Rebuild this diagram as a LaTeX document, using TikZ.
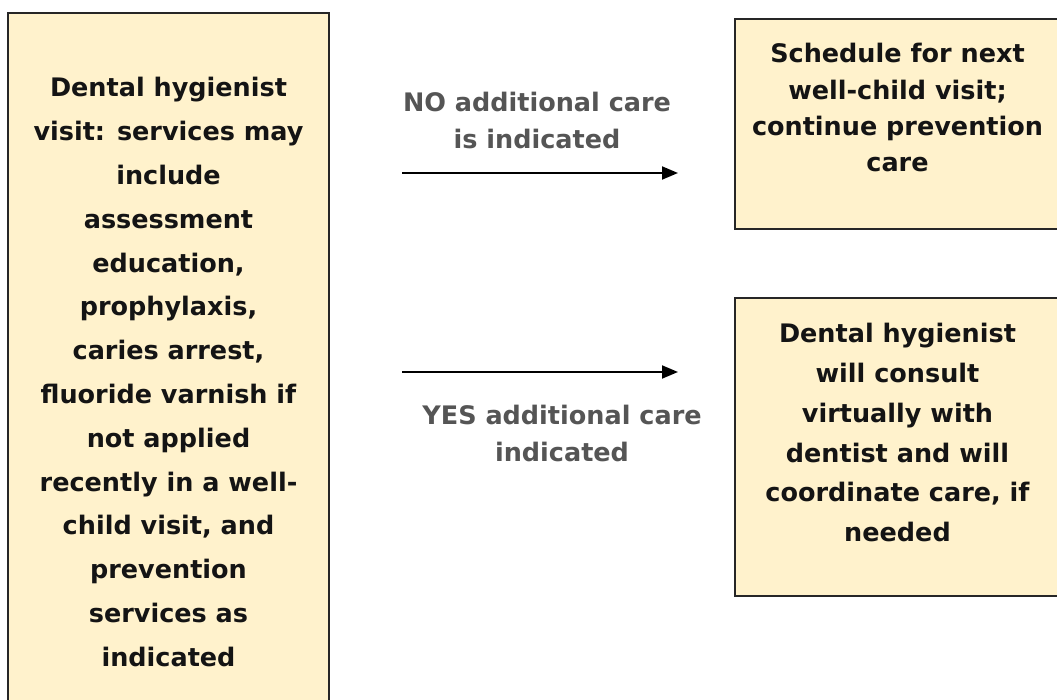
\documentclass[tikz,border=0pt]{standalone}
\usepackage{fontspec}
\setmainfont{DejaVu Sans}
\usetikzlibrary{arrows.meta}
\definecolor{boxfill}{HTML}{FFF2CC}
\definecolor{boxline}{HTML}{262626}
\definecolor{labelgray}{HTML}{555555}
\definecolor{inktext}{HTML}{141414}
\begin{document}
\begin{tikzpicture}[x=1pt,y=-1pt,
  carebox/.style={draw=boxline, line width=1.9pt, fill=boxfill, align=center,
    text=inktext, inner sep=0pt},
  boxfont/.style={font=\bfseries\fontsize{25.5}{#1}\selectfont},
  flowlabel/.style={align=center, text=labelgray, inner sep=0pt,
    font=\bfseries\fontsize{25.5}{37}\selectfont},
  flowarrow/.style={line width=1.9pt, draw=black,
    -{Triangle[length=16pt,width=13pt]}}]
\useasboundingbox (0,0) rectangle (1057,700);
\fill[white] (0,0) rectangle (1057,700);

% hygienist visit (runs past the lower edge)
\node[carebox, boxfont=43.8, minimum width=321, minimum height=718]
  (visit) at (168.5,372) {Dental hygienist\\visit: services may\\include\\assessment\\education,\\prophylaxis,\\caries arrest,\\fluoride varnish if\\not applied\\recently in a well-\\child visit, and\\prevention\\services as\\indicated};

% outcomes
\node[carebox, boxfont=36.3, minimum width=325, minimum height=210, text depth=33pt]
  (routine) at (897.5,124) {Schedule for next\\well-child visit;\\continue prevention\\care};
\node[carebox, boxfont=39.8, minimum width=325, minimum height=298, text depth=29pt]
  (consult) at (897.5,447) {Dental hygienist\\will consult\\virtually with\\dentist and will\\coordinate care, if\\needed};

% branch arrows and their labels
\coordinate (noStart) at (402,173);
\coordinate (noEnd) at (678,173);
\coordinate (yesStart) at (402,372);
\coordinate (yesEnd) at (678,372);
\draw[flowarrow] (noStart) -- (noEnd);
\draw[flowarrow] (yesStart) -- (yesEnd);
\node[flowlabel] (nolabel) at (537,120) {NO additional care\\is indicated};
\node[flowlabel] (yeslabel) at (562,433) {YES additional care\\indicated};
\end{tikzpicture}
\end{document}
